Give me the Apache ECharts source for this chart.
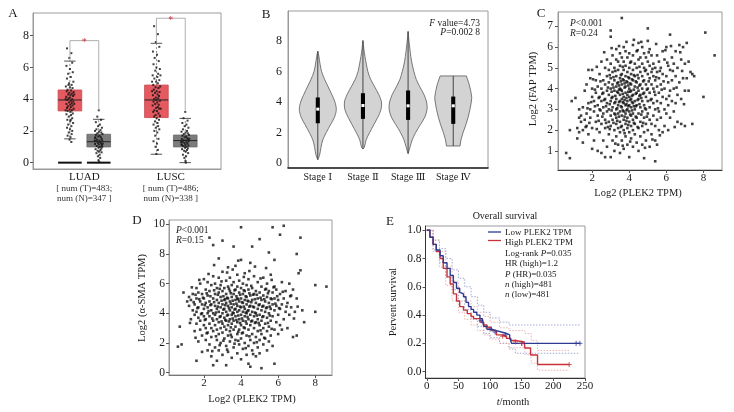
<!DOCTYPE html>
<html><head><meta charset="utf-8">
<script src="https://cdn.jsdelivr.net/npm/echarts@6/dist/echarts.min.js"></script>
<style>html,body{margin:0;padding:0;background:#fff}#c{width:734px;height:412px}</style>
</head><body><div id="c"></div>
<script>
const SERIF = '"Liberation Serif","DejaVu Serif",serif';

// ---------- Panel A ----------
const aPos = [1, 2, 4, 5];                 // LUAD-T, LUAD-N, LUSC-T, LUSC-N
const aTumor = [1, 0, 1, 0];
const aCategories = ['LUAD', 'LUSC'];
const aCatPos = [1.5, 4.5];
const aNumT = ['483', '486'];
const aNumN = ['347', '338'];
const aTicksY = [0, 2, 4, 6, 8];
// [lowWhisker, q1, median, q3, highWhisker]
const aBoxStats = [[1.5, 3.26, 3.95, 4.58, 6.4], [0, 0.99, 1.32, 1.79, 2.73], [0.53, 2.84, 3.95, 4.89, 7.52], [0, 0.99, 1.39, 1.74, 2.79]];
const aZeroBars = [1, 2];
// [x1, x2, yTop, yLeftEnd, yRightEnd]
const aBrackets = [[1, 2, 7.69, 6.4, 3.3], [4, 5, 9.1, 7.52, 3.3]];
const aJitterLUADT = [[-0.1,7.2],[0.05,6.9],[-0.02,6.6],[0.08,6.3],[-0.12,6.1],[0.0,5.9],[0.1,5.7],[-0.06,5.6],[0.03,5.4],[-0.1,5.3],[0.12,5.1],[-0.03,5.0],[0.06,4.9],[-0.14,4.8],[0.0,4.75],[0.09,4.7],[-0.08,4.6],[0.04,4.55],[-0.11,4.5],[0.13,4.45],[-0.02,4.4],[0.07,4.35],[-0.06,4.3],[0.02,4.25],[0.11,4.2],[-0.13,4.15],[0.0,4.1],[-0.05,4.05],[0.08,4.0],[-0.09,3.95],[0.04,3.9],[0.12,3.85],[-0.03,3.8],[0.06,3.75],[-0.12,3.7],[0.01,3.65],[0.09,3.6],[-0.07,3.55],[0.03,3.5],[-0.1,3.45],[0.13,3.4],[-0.01,3.35],[0.07,3.3],[-0.08,3.25],[0.02,3.2],[0.1,3.1],[-0.12,3.05],[0.04,3.0],[-0.04,2.9],[0.08,2.8],[-0.09,2.7],[0.01,2.6],[0.11,2.5],[-0.06,2.4],[0.05,2.3],[-0.1,2.2],[0.0,2.1],[0.08,2.0],[-0.04,1.9],[0.06,1.8],[-0.08,1.7],[0.02,1.6],[-0.01,1.45],[0.05,1.3],[-0.15,4.0],[0.15,3.7],[-0.15,3.3],[0.15,4.3],[-0.05,4.9],[0.03,2.7]];
const aJitterLUADN = [[0.0,3.3],[-0.05,2.9],[0.08,2.7],[-0.1,2.55],[0.04,2.4],[-0.02,2.3],[0.11,2.2],[-0.08,2.1],[0.06,2.05],[-0.13,2.0],[0.01,1.95],[0.09,1.9],[-0.05,1.85],[0.13,1.8],[-0.1,1.75],[0.03,1.7],[-0.02,1.65],[0.07,1.6],[-0.12,1.55],[0.1,1.5],[-0.06,1.45],[0.02,1.4],[0.12,1.38],[-0.09,1.35],[0.05,1.3],[-0.03,1.25],[0.08,1.2],[-0.13,1.18],[0.0,1.15],[0.11,1.1],[-0.07,1.05],[0.04,1.0],[-0.01,0.95],[0.09,0.9],[-0.11,0.85],[0.06,0.8],[-0.04,0.75],[0.02,0.7],[0.1,0.65],[-0.08,0.6],[0.03,0.5],[-0.03,0.4],[0.05,0.3],[-0.01,0.15],[0.02,0.05],[-0.14,1.4],[0.14,1.2],[-0.12,1.6],[0.12,1.0]];
const aJitterLUSCT = [[-0.08,8.6],[0.05,8.1],[-0.02,7.6],[0.1,7.3],[-0.12,7.0],[0.02,6.8],[-0.06,6.6],[0.08,6.4],[-0.1,6.2],[0.0,6.0],[0.12,5.9],[-0.04,5.8],[0.06,5.6],[-0.13,5.5],[0.03,5.4],[-0.07,5.3],[0.1,5.2],[-0.01,5.1],[0.05,5.0],[-0.11,4.9],[0.13,4.8],[-0.03,4.75],[0.07,4.7],[-0.09,4.6],[0.01,4.5],[0.11,4.45],[-0.05,4.4],[0.04,4.3],[-0.12,4.25],[0.09,4.2],[-0.02,4.1],[0.06,4.05],[-0.08,4.0],[0.0,3.95],[0.12,3.9],[-0.1,3.85],[0.03,3.8],[-0.04,3.7],[0.08,3.65],[-0.13,3.6],[0.05,3.5],[-0.01,3.45],[0.1,3.4],[-0.07,3.3],[0.02,3.25],[-0.11,3.2],[0.07,3.1],[-0.03,3.0],[0.12,2.95],[-0.08,2.9],[0.01,2.8],[0.09,2.7],[-0.05,2.6],[0.04,2.5],[-0.1,2.4],[0.06,2.3],[-0.02,2.2],[0.1,2.1],[-0.07,2.0],[0.03,1.9],[-0.04,1.7],[0.07,1.5],[-0.1,1.35],[0.02,1.2],[-0.03,1.0],[0.05,0.8],[0.0,0.55],[-0.15,4.5],[0.15,3.4],[-0.15,5.1],[0.14,5.5]];
const aJitterLUSCN = [[0.0,3.2],[-0.06,2.8],[0.08,2.65],[-0.1,2.5],[0.04,2.4],[-0.02,2.3],[0.11,2.2],[-0.08,2.1],[0.06,2.0],[-0.13,1.95],[0.01,1.9],[0.09,1.85],[-0.05,1.8],[0.13,1.75],[-0.1,1.7],[0.03,1.65],[-0.02,1.6],[0.07,1.55],[-0.12,1.5],[0.1,1.45],[-0.06,1.42],[0.02,1.4],[0.12,1.36],[-0.09,1.32],[0.05,1.28],[-0.03,1.24],[0.08,1.2],[-0.13,1.16],[0.0,1.12],[0.11,1.08],[-0.07,1.04],[0.04,1.0],[-0.01,0.95],[0.09,0.9],[-0.11,0.85],[0.06,0.8],[-0.04,0.75],[0.02,0.7],[0.1,0.6],[-0.08,0.5],[0.03,0.4],[-0.03,0.3],[0.01,0.1],[0.02,0.0],[-0.14,1.3],[0.14,1.5],[-0.12,1.1]];
const aJitter = [aJitterLUADT, aJitterLUADN, aJitterLUSCT, aJitterLUSCN];

// ---------- Panel B ----------
const bStages = ['Stage Ⅰ', 'Stage Ⅱ', 'Stage Ⅲ', 'Stage Ⅳ'];
const bPos = [1, 2, 3, 4];
const bTicksY = [0, 2, 4, 6, 8];
const bProfileY = [
  [0.2,0.5,1,1.5,2,2.5,3,3.5,4,4.5,5,5.5,6,6.5,7,7.35],
  [0.9,1,1.5,2,2.5,3,3.5,4,4.5,5,5.5,6,6.5,7,7.5,8.05],
  [0.6,1,1.5,2,2.5,3,3.5,4,4.5,5,5.5,6,6.5,7,7.5,8,8.65],
  [1.1,1.1,1.5,2,2.5,3,3.5,4,4.3,4.7,5.2,5.72,5.72]
];
const bProfileW = [
  [0,0.04,0.07,0.11,0.19,0.28,0.37,0.41,0.38,0.31,0.23,0.15,0.085,0.05,0.025,0],
  [0,0.03,0.07,0.15,0.24,0.33,0.40,0.41,0.35,0.26,0.17,0.11,0.075,0.045,0.02,0],
  [0,0.04,0.09,0.17,0.27,0.37,0.42,0.41,0.35,0.26,0.18,0.13,0.09,0.06,0.04,0.02,0],
  [0,0.15,0.17,0.22,0.28,0.33,0.37,0.40,0.41,0.39,0.35,0.29,0]
];
// [min, q1, median, q3, max]
const bBoxStats = [[0.2,2.6,3.53,4.3,7.35],[0.9,2.89,3.77,4.58,8.05],[0.6,2.82,3.75,4.76,8.65],[1.1,2.56,3.75,4.36,5.72]];

// ---------- Panel C ----------
const cTicksX = [2, 4, 6, 8];
const cTicksY = [1, 2, 3, 4, 5, 6, 7];
const cPoints = [[0.6,0.9],[0.8,0.65],[0.8,2.0],[0.9,3.4],[1.1,3.55],[1.2,1.6],[1.2,2.1],[1.3,1.9],[1.3,2.6],[1.3,3.0],[1.4,2.4],[1.4,2.7],[1.5,1.4],[1.5,2.0],[1.5,3.1],[1.6,2.5],[1.6,3.9],[1.7,2.8],[1.7,2.2],[1.7,4.2],[1.8,1.8],[1.8,3.3],[1.8,4.9],[1.9,2.6],[1.9,3.0],[1.9,4.5],[2.0,1.1],[2.0,2.1],[2.0,3.6],[2.0,4.0],[2.0,4.9],[2.1,2.9],[2.1,3.4],[2.1,1.5],[2.2,2.4],[2.2,3.8],[2.2,4.4],[2.3,1.0],[2.3,2.7],[2.3,3.2],[2.3,4.1],[2.4,1.9],[2.4,3.0],[2.4,3.6],[2.4,4.7],[2.5,0.9],[2.5,2.3],[2.5,3.4],[2.5,4.0],[2.5,5.3],[2.6,1.5],[2.6,2.8],[2.6,3.1],[2.6,3.8],[2.6,4.4],[2.7,0.7],[2.7,2.1],[2.7,2.5],[2.7,3.5],[2.7,4.2],[2.7,5.0],[2.8,1.2],[2.8,2.9],[2.8,3.3],[2.8,3.9],[2.8,4.6],[2.8,5.4],[2.9,1.8],[2.9,2.4],[2.9,3.0],[2.9,3.7],[2.9,4.3],[2.9,4.9],[3.0,0.7],[3.0,6.8],[3.0,6.5],[3.0,2.2],[3.0,2.7],[3.0,3.4],[3.0,4.0],[3.0,4.5],[3.0,5.2],[3.1,1.5],[3.1,2.5],[3.1,3.1],[3.1,3.6],[3.1,4.2],[3.1,4.8],[3.1,5.6],[3.2,1.0],[3.2,2.0],[3.2,2.8],[3.2,3.3],[3.2,3.9],[3.2,4.4],[3.2,5.0],[3.3,1.7],[3.3,2.3],[3.3,2.6],[3.3,3.0],[3.3,3.5],[3.3,4.1],[3.3,4.6],[3.3,5.4],[3.3,5.9],[3.4,1.3],[3.4,2.1],[3.4,2.8],[3.4,3.2],[3.4,3.8],[3.4,4.3],[3.4,4.9],[3.4,5.3],[3.5,0.9],[3.5,1.9],[3.5,2.4],[3.5,2.9],[3.5,3.4],[3.5,3.7],[3.5,4.0],[3.5,4.5],[3.5,5.1],[3.5,5.7],[3.6,7.4],[3.6,1.5],[3.6,2.2],[3.6,2.7],[3.6,3.1],[3.6,3.5],[3.6,3.9],[3.6,4.2],[3.6,4.7],[3.6,5.5],[3.7,1.1],[3.7,2.0],[3.7,2.5],[3.7,2.9],[3.7,3.3],[3.7,3.6],[3.7,4.4],[3.7,4.9],[3.7,5.3],[3.7,6.0],[3.8,1.7],[3.8,2.3],[3.8,2.8],[3.8,3.2],[3.8,3.8],[3.8,4.1],[3.8,4.6],[3.8,5.1],[3.8,5.8],[3.9,1.3],[3.9,2.1],[3.9,2.6],[3.9,3.0],[3.9,3.4],[3.9,3.7],[3.9,4.3],[3.9,4.8],[3.9,5.5],[4.0,0.7],[4.0,1.9],[4.0,2.4],[4.0,2.9],[4.0,3.2],[4.0,3.6],[4.0,4.0],[4.0,4.5],[4.0,5.0],[4.0,5.7],[4.1,1.6],[4.1,2.2],[4.1,2.7],[4.1,3.1],[4.1,3.5],[4.1,3.9],[4.1,4.2],[4.1,4.7],[4.1,5.3],[4.2,1.2],[4.2,2.0],[4.2,2.5],[4.2,2.8],[4.2,3.3],[4.2,3.7],[4.2,4.4],[4.2,4.9],[4.2,5.6],[4.2,6.1],[4.3,1.8],[4.3,2.3],[4.3,3.0],[4.3,3.4],[4.3,4.1],[4.3,4.6],[4.3,5.2],[4.4,1.4],[4.4,2.6],[4.4,3.2],[4.4,3.8],[4.4,4.3],[4.4,5.0],[4.4,5.8],[4.5,1.0],[4.5,2.1],[4.5,2.8],[4.5,3.5],[4.5,3.9],[4.5,4.5],[4.5,5.4],[4.5,6.2],[4.6,1.7],[4.6,2.4],[4.6,3.1],[4.6,3.7],[4.6,4.2],[4.6,4.8],[4.6,5.5],[4.7,1.3],[4.7,2.2],[4.7,2.9],[4.7,3.4],[4.7,4.0],[4.7,4.6],[4.7,5.2],[4.7,6.0],[4.8,0.65],[4.8,1.9],[4.8,2.6],[4.8,3.2],[4.8,3.8],[4.8,4.4],[4.8,5.0],[4.8,5.7],[4.9,1.5],[4.9,2.3],[4.9,3.0],[4.9,3.6],[4.9,4.2],[4.9,4.9],[4.9,5.5],[5.0,6.9],[5.0,6.3],[5.0,2.0],[5.0,2.8],[5.0,3.4],[5.0,4.0],[5.0,4.7],[5.0,5.3],[5.1,1.2],[5.1,2.5],[5.1,3.1],[5.1,3.8],[5.1,4.5],[5.1,5.1],[5.1,5.9],[5.2,1.8],[5.2,2.3],[5.2,3.5],[5.2,4.2],[5.2,4.8],[5.2,5.6],[5.3,2.7],[5.3,3.3],[5.3,4.0],[5.3,4.6],[5.3,5.2],[5.4,0.5],[5.4,1.5],[5.4,2.2],[5.4,3.0],[5.4,3.7],[5.4,4.4],[5.4,5.0],[5.5,1.3],[5.5,2.5],[5.5,3.4],[5.5,4.1],[5.5,4.8],[5.5,5.6],[5.6,2.0],[5.6,2.9],[5.6,3.8],[5.6,4.5],[5.6,5.3],[5.7,2.6],[5.7,3.3],[5.7,4.2],[5.7,5.0],[5.8,1.9],[5.8,3.6],[5.8,4.7],[5.8,5.8],[5.9,2.2],[5.9,3.0],[5.9,4.0],[5.9,5.4],[6.0,2.8],[6.0,3.5],[6.0,4.6],[6.0,6.0],[6.1,2.0],[6.1,3.2],[6.1,4.3],[6.1,5.1],[6.2,6.6],[6.2,2.6],[6.2,3.9],[6.2,4.9],[6.3,3.4],[6.3,4.4],[6.3,5.5],[6.4,2.9],[6.4,4.0],[6.4,5.2],[6.5,3.3],[6.5,4.6],[6.5,5.8],[6.6,2.4],[6.6,3.7],[6.6,5.0],[6.7,6.1],[6.7,4.3],[6.8,2.3],[6.8,3.5],[6.8,5.4],[6.9,4.5],[6.9,6.0],[7.0,2.2],[7.0,3.9],[7.0,5.2],[7.1,4.5],[7.1,6.2],[7.2,3.9],[7.2,5.3],[7.3,4.8],[7.4,2.3],[7.4,4.7],[7.5,4.6],[8.0,3.6],[8.1,6.7],[8.6,5.6],
[2.15,3.15],[2.25,2.05],[2.35,3.55],[2.45,4.35],[2.55,2.65],[2.65,3.45],[2.75,2.35],[2.85,4.05],[2.95,3.25],[2.95,2.05],[3.05,3.85],[3.05,2.95],[3.15,4.55],[3.15,2.35],[3.25,3.65],[3.25,2.75],[3.25,4.85],[3.35,3.05],[3.35,3.85],[3.35,2.45],[3.45,4.15],[3.45,3.35],[3.45,2.65],[3.55,3.95],[3.55,3.15],[3.55,4.65],[3.55,2.15],[3.65,3.75],[3.65,2.95],[3.65,4.45],[3.65,5.05],[3.75,3.45],[3.75,2.65],[3.75,4.05],[3.75,1.85],[3.85,3.55],[3.85,4.35],[3.85,2.95],[3.85,2.45],[3.95,3.85],[3.95,3.15],[3.95,4.55],[3.95,2.25],[4.05,3.45],[4.05,4.25],[4.05,2.75],[4.05,5.25],[4.15,3.65],[4.15,2.95],[4.15,4.45],[4.25,3.15],[4.25,3.95],[4.25,2.35],[4.35,3.75],[4.35,4.35],[4.35,2.65],[4.45,3.45],[4.45,4.65],[4.45,2.15],[4.55,3.25],[4.55,4.15],[4.55,5.05],[4.65,3.55],[4.65,2.75],[4.75,4.35],[4.75,3.75],[4.85,3.05],[4.85,4.85],[4.95,3.95],[4.95,2.65],[5.05,4.35],[5.15,3.45],[5.25,4.95],[5.35,3.85],[5.45,4.55],[5.55,3.05],[5.65,4.85],[5.75,3.95],[5.85,4.35],[6.05,5.25],[6.15,3.65],[6.35,4.85],[6.55,4.05],[6.75,5.75],[6.95,3.25],[1.95,3.35],[1.85,2.35],[1.75,3.05],[1.65,2.15],[2.05,4.45],[2.25,5.05],[2.45,2.95],[2.65,5.75],[2.85,2.15],[3.05,5.95],[3.25,1.35],[3.45,6.05],[3.65,1.25],[3.85,6.25],[4.05,1.45],[4.25,6.35],[4.45,5.85],[4.65,6.25],[4.85,1.15],[5.05,5.75],[5.25,1.55],[5.45,6.15],[5.65,1.75],[5.95,5.85],[6.25,6.05],[6.45,2.15],[6.85,4.85],[3.15,4.05],[3.35,4.25],[3.55,4.35],[3.75,4.25],[3.95,4.15],[4.15,3.35],[4.35,3.15],[4.55,3.65],[4.75,2.35],[3.05,3.55],[3.25,3.35],[3.45,3.95],[3.65,3.35],[3.85,3.25],[4.05,3.85],[4.25,4.65],[4.45,4.05],[2.55,3.75],[2.75,3.15],[2.95,4.65],[2.35,2.45],[2.15,3.95]];

// ---------- Panel D ----------
const dTicksX = [2, 4, 6, 8];
const dTicksY = [0, 2, 4, 6, 8, 10];
const dPoints = [[0.6,1.75],[0.8,1.9],[0.7,3.1],[0.9,5.4],[1.1,4.8],[1.2,4.5],[1.2,5.1],[1.3,3.6],[1.3,4.9],[1.4,4.2],[1.4,5.3],[1.5,2.8],[1.5,3.9],[1.5,4.6],[1.6,0.8],[1.6,3.3],[1.6,4.1],[1.6,5.0],[1.6,5.7],[1.7,2.1],[1.7,3.7],[1.7,4.4],[1.7,5.4],[1.8,2.9],[1.8,3.5],[1.8,4.8],[1.8,6.0],[1.9,1.4],[1.9,2.5],[1.9,4.0],[1.9,4.6],[1.9,5.3],[2.0,3.2],[2.0,3.8],[2.0,4.3],[2.0,5.0],[2.0,6.3],[2.1,2.2],[2.1,3.0],[2.1,3.6],[2.1,4.7],[2.1,5.6],[2.2,1.5],[2.2,2.7],[2.2,4.0],[2.2,4.4],[2.2,5.2],[2.2,6.1],[2.3,9.1],[2.3,1.9],[2.3,3.3],[2.3,3.8],[2.3,4.8],[2.3,5.5],[2.4,1.1],[2.4,2.4],[2.4,3.0],[2.4,4.2],[2.4,4.6],[2.4,5.9],[2.5,8.6],[2.5,0.5],[2.5,2.8],[2.5,3.5],[2.5,4.0],[2.5,5.0],[2.5,6.5],[2.6,1.7],[2.6,3.2],[2.6,3.9],[2.6,4.5],[2.6,5.3],[2.6,6.0],[2.7,0.8],[2.7,2.2],[2.7,2.9],[2.7,3.6],[2.7,4.3],[2.7,4.9],[2.7,5.7],[2.8,7.7],[2.8,1.5],[2.8,2.6],[2.8,3.4],[2.8,4.1],[2.8,4.7],[2.8,5.4],[2.8,6.4],[2.9,2.0],[2.9,3.0],[2.9,3.8],[2.9,4.4],[2.9,5.1],[2.9,5.9],[3.0,8.9],[3.0,1.2],[3.0,2.7],[3.0,3.3],[3.0,4.0],[3.0,4.6],[3.0,5.5],[3.0,6.8],[3.1,2.3],[3.1,3.1],[3.1,3.7],[3.1,4.3],[3.1,4.9],[3.1,5.7],[3.2,0.5],[3.2,1.8],[3.2,2.9],[3.2,3.5],[3.2,4.1],[3.2,4.7],[3.2,5.3],[3.2,6.2],[3.3,1.4],[3.3,2.5],[3.3,3.2],[3.3,3.9],[3.3,4.5],[3.3,5.0],[3.3,5.8],[3.3,7.1],[3.4,2.1],[3.4,2.8],[3.4,3.6],[3.4,4.2],[3.4,4.8],[3.4,5.5],[3.4,6.4],[3.5,1.0],[3.5,2.4],[3.5,3.3],[3.5,3.9],[3.5,4.4],[3.5,5.1],[3.5,5.9],[3.6,8.5],[3.6,1.7],[3.6,2.9],[3.6,3.5],[3.6,4.0],[3.6,4.6],[3.6,5.3],[3.6,6.1],[3.7,2.2],[3.7,3.1],[3.7,3.8],[3.7,4.3],[3.7,4.9],[3.7,5.6],[3.7,7.2],[3.8,1.3],[3.8,2.6],[3.8,3.4],[3.8,4.1],[3.8,4.5],[3.8,5.0],[3.8,5.8],[3.8,6.6],[3.9,1.9],[3.9,2.9],[3.9,3.6],[3.9,4.2],[3.9,4.8],[3.9,5.4],[3.9,6.2],[4.0,9.8],[4.0,0.9],[4.0,2.3],[4.0,3.2],[4.0,3.9],[4.0,4.4],[4.0,5.0],[4.0,5.7],[4.0,7.6],[4.1,1.6],[4.1,2.7],[4.1,3.5],[4.1,4.1],[4.1,4.7],[4.1,5.3],[4.1,6.0],[4.2,2.0],[4.2,3.0],[4.2,3.8],[4.2,4.3],[4.2,4.9],[4.2,5.5],[4.2,6.7],[4.3,1.2],[4.3,2.5],[4.3,3.3],[4.3,4.0],[4.3,4.6],[4.3,5.1],[4.3,5.9],[4.4,0.6],[4.4,1.8],[4.4,2.9],[4.4,3.6],[4.4,4.2],[4.4,4.8],[4.4,5.6],[4.4,6.3],[4.5,0.4],[4.5,2.2],[4.5,3.2],[4.5,3.9],[4.5,4.5],[4.5,5.2],[4.5,7.4],[4.6,8.5],[4.6,1.5],[4.6,2.6],[4.6,3.5],[4.6,4.1],[4.6,4.9],[4.6,5.7],[4.7,2.0],[4.7,3.0],[4.7,3.8],[4.7,4.4],[4.7,5.3],[4.7,6.5],[4.8,1.1],[4.8,2.4],[4.8,3.4],[4.8,4.0],[4.8,4.7],[4.8,5.5],[4.9,1.7],[4.9,2.8],[4.9,3.6],[4.9,4.3],[4.9,5.0],[4.9,6.1],[5.0,9.0],[5.0,1.3],[5.0,2.2],[5.0,3.2],[5.0,3.9],[5.0,4.6],[5.0,5.4],[5.1,0.3],[5.1,2.6],[5.1,3.5],[5.1,4.2],[5.1,4.9],[5.1,5.8],[5.2,1.9],[5.2,3.0],[5.2,3.8],[5.2,4.5],[5.2,5.2],[5.2,6.4],[5.3,2.3],[5.3,3.3],[5.3,4.1],[5.3,4.8],[5.3,5.6],[5.4,1.5],[5.4,2.8],[5.4,3.7],[5.4,4.4],[5.4,5.1],[5.4,6.0],[5.5,2.1],[5.5,3.1],[5.5,4.0],[5.5,4.7],[5.5,5.5],[5.5,8.1],[5.6,2.5],[5.6,3.5],[5.6,4.3],[5.6,5.0],[5.6,6.6],[5.7,9.8],[5.7,1.8],[5.7,3.8],[5.7,4.6],[5.7,5.4],[5.8,0.6],[5.8,2.9],[5.8,4.2],[5.8,5.0],[5.8,5.8],[5.8,7.6],[5.9,3.4],[5.9,4.5],[5.9,5.6],[6.0,2.6],[6.0,3.9],[6.0,4.9],[6.1,9.3],[6.1,3.2],[6.1,4.3],[6.1,5.3],[6.2,2.9],[6.2,4.6],[6.2,6.1],[6.3,9.9],[6.3,3.6],[6.3,5.0],[6.4,4.1],[6.4,5.5],[6.5,3.0],[6.5,4.7],[6.6,6.0],[6.6,3.9],[6.7,4.4],[6.7,5.2],[6.8,2.4],[6.8,5.6],[6.9,4.1],[7.0,2.5],[7.0,8.0],[7.0,5.0],[7.1,6.7],[7.2,9.1],[7.2,6.9],[7.3,4.2],[7.4,3.4],[8.0,5.9],[8.0,4.1],[8.6,5.8],
[1.45,4.75],[1.55,5.25],[1.65,4.35],[1.75,4.95],[1.85,3.95],[1.95,5.05],[2.05,4.55],[2.15,5.35],[2.25,4.15],[2.35,5.15],[2.45,3.65],[2.55,4.75],[2.65,4.05],[2.75,5.25],[2.85,3.75],[2.95,4.85],[3.05,4.25],[3.05,5.15],[3.15,3.55],[3.15,4.55],[3.25,3.85],[3.25,5.05],[3.35,4.35],[3.35,3.45],[3.45,4.65],[3.45,5.35],[3.55,3.65],[3.55,4.85],[3.65,4.25],[3.65,5.55],[3.75,3.55],[3.75,4.65],[3.85,4.95],[3.85,3.85],[3.95,4.45],[3.95,5.25],[4.05,4.75],[4.05,3.65],[4.15,4.45],[4.15,5.55],[4.25,4.05],[4.25,5.15],[4.35,4.85],[4.35,3.75],[4.45,4.45],[4.45,5.35],[4.55,4.75],[4.55,3.45],[4.65,4.45],[4.65,5.25],[4.75,4.05],[4.75,4.95],[4.85,5.25],[4.85,3.85],[4.95,4.55],[5.05,5.05],[5.15,4.45],[5.25,4.95],[5.35,4.35],[5.45,5.35],[5.55,4.45],[5.65,4.95],[5.75,5.75],[5.85,4.65],[5.95,5.15],[6.05,4.35],[6.25,5.45],[6.45,4.45],[6.65,5.15],[2.15,2.65],[2.45,1.45],[2.65,2.45],[2.85,1.85],[3.05,2.15],[3.25,1.55],[3.45,2.55],[3.65,1.95],[3.85,2.15],[4.05,2.65],[4.25,1.65],[4.45,2.45],[4.65,1.25],[4.85,2.05],[5.05,2.85],[5.25,2.35],[5.45,3.35],[5.65,2.95],[2.25,6.65],[2.55,7.25],[2.95,6.15],[3.25,6.75],[3.55,6.95],[3.85,7.55],[4.15,6.45],[4.45,6.85],[4.75,7.15],[5.05,6.35],[5.35,7.05],[5.65,6.25],[1.25,3.35],[1.35,5.75],[1.55,2.35],[1.75,6.25],[6.85,3.65],[7.05,4.45],[2.35,4.55],[2.75,4.45],[3.15,4.95],[3.55,4.05],[3.95,3.35],[4.35,4.15],[4.75,3.35],[5.15,3.75],[5.55,3.85],[2.95,3.45],[3.35,5.65],[3.75,5.15],[4.15,3.05],[4.55,5.85],[4.95,3.35],[5.35,5.65],[2.05,3.55],[2.55,5.55],[2.85,5.65],[3.45,3.05],[3.85,2.75],[4.25,3.45]];

// ---------- Panel E ----------
const eTicksX = [0, 50, 100, 150, 200, 250];
const eTicksY = [0, 0.2, 0.4, 0.6, 0.8, 1.0];
const eLow = [[0,1.0],[5,0.95],[10,0.90],[15,0.86],[21,0.82],[26,0.77],[32,0.73],[37,0.68],[42,0.63],[47,0.59],[52,0.56],[55,0.55],[58,0.53],[62,0.49],[66,0.46],[70,0.44],[74,0.42],[79,0.40],[84,0.375],[88,0.36],[90,0.32],[95,0.30],[102,0.29],[110,0.28],[118,0.27],[126,0.26],[131,0.24],[134,0.20],[242,0.20]];
const eHigh = [[0,1.0],[5,0.95],[10,0.90],[15,0.85],[21,0.80],[26,0.73],[32,0.67],[37,0.62],[42,0.55],[47,0.50],[52,0.46],[58,0.435],[64,0.41],[70,0.39],[74,0.375],[84,0.35],[90,0.33],[95,0.315],[102,0.29],[110,0.26],[118,0.25],[126,0.235],[133,0.22],[140,0.21],[154,0.20],[155,0.167],[164,0.118],[175,0.05],[225,0.05]];
const eLowUpper = [[0,1],[10,0.93],[20,0.87],[30,0.80],[40,0.72],[50,0.66],[60,0.60],[70,0.53],[80,0.47],[90,0.42],[100,0.38],[115,0.35],[130,0.33],[242,0.33]];
const eLowLower = [[0,1],[10,0.86],[20,0.77],[30,0.67],[40,0.58],[50,0.50],[60,0.44],[70,0.37],[80,0.32],[90,0.27],[100,0.24],[115,0.20],[130,0.16],[140,0.13],[242,0.13]];
const eHighUpper = [[0,1],[10,0.93],[20,0.85],[30,0.74],[40,0.64],[50,0.56],[60,0.50],[70,0.46],[80,0.42],[90,0.39],[100,0.35],[115,0.31],[130,0.29],[155,0.27],[165,0.22],[175,0.15],[225,0.15]];
const eHighLower = [[0,1],[10,0.85],[20,0.74],[30,0.61],[40,0.50],[50,0.42],[60,0.37],[70,0.33],[80,0.29],[90,0.26],[100,0.23],[115,0.20],[130,0.17],[155,0.12],[165,0.06],[175,0.01],[225,0.01]];
const eLowCensor = [[86,0.36],[100,0.30],[108,0.28],[124,0.26],[150,0.20],[236,0.20],[242,0.20]];
const eHighCensor = [[96,0.31],[120,0.25],[140,0.21],[150,0.20],[225,0.05]];
const eLegend = ['Low PLEK2 TPM', 'High PLEK2 TPM'];

const BLUE = '#2d3a92', RED = '#c9323a';
const LBL = {fontFamily: SERIF, color: '#1a1a1a'};

function xAx(g, min, max, ticks, extra) {
  return Object.assign({
    gridIndex: g, type: 'value', min, max,
    splitLine: {show: false},
    axisLine: {show: true, lineStyle: {color: '#333', width: 1}},
    axisTick: {show: true, inside: false, length: 3, customValues: ticks, lineStyle: {color: '#555'}},
    axisLabel: Object.assign({customValues: ticks, fontSize: 11, margin: 3}, LBL)
  }, extra || {});
}
function yAx(g, min, max, ticks, extra) {
  return Object.assign({
    gridIndex: g, type: 'value', min, max,
    splitLine: {show: false},
    axisLine: {show: true, lineStyle: {color: '#999', width: 1}},
    axisTick: {show: true, inside: false, length: 3, customValues: ticks, lineStyle: {color: '#555'}},
    axisLabel: Object.assign({customValues: ticks, fontSize: 11, margin: 4}, LBL)
  }, extra || {});
}

const grid = [
  {left: 33, top: 13, width: 188, height: 156, show: true, borderColor: '#9a9a9a', borderWidth: 1},
  {left: 288, top: 11, width: 200, height: 157, show: true, borderColor: '#9a9a9a', borderWidth: 1},
  {left: 558, top: 12, width: 164, height: 158, show: true, borderColor: '#9a9a9a', borderWidth: 1},
  {left: 169, top: 220, width: 163, height: 155, show: true, borderColor: '#9a9a9a', borderWidth: 1},
  {left: 425.5, top: 226, width: 159.5, height: 152, show: true, borderColor: '#9a9a9a', borderWidth: 1}
];

const xAxis = [
  xAx(0, -0.28, 6.24, aCatPos, {
    axisLine: {show: true, lineStyle: {color: '#999'}},
    axisTick: {show: false},
    axisLabel: {customValues: aCatPos, margin: 2, fontFamily: SERIF, color: '#1a1a1a', lineHeight: 11,
      formatter: v => { const i = aCatPos.indexOf(v); return '{n|' + aCategories[i] + '}\n{s|[ num (T)=' + aNumT[i] + ';}\n{s|num (N)=' + aNumN[i] + ' ]}'; },
      rich: {n: {fontSize: 11, fontFamily: SERIF, lineHeight: 13, color: '#1a1a1a'}, s: {fontSize: 9, fontFamily: SERIF, lineHeight: 10, color: '#333'}}}
  }),
  xAx(1, 0.34, 4.77, bPos, {
    axisLine: {show: true, lineStyle: {color: '#222', width: 1.6}},
    axisTick: {show: false},
    axisLabel: Object.assign({customValues: bPos, fontSize: 10, margin: 4, formatter: v => bStages[Math.round(v) - 1]}, LBL)
  }),
  xAx(2, 0.16, 9.0, cTicksX),
  xAx(3, 0.12, 8.9, dTicksX, {axisLine: {show: true, lineStyle: {color: '#777'}}}),
  xAx(4, -2, 250, eTicksX)
];
const yAxis = [
  yAx(0, -0.4, 9.43, aTicksY, {axisLabel: Object.assign({customValues: aTicksY, fontSize: 12, margin: 4}, LBL)}),
  yAx(1, -0.35, 10.0, bTicksY, {axisTick: {show: false}, axisLabel: Object.assign({customValues: bTicksY, fontSize: 12, margin: 6}, LBL)}),
  yAx(2, 0.08, 7.69, cTicksY, {axisLabel: Object.assign({customValues: cTicksY, fontSize: 11.5, margin: 5}, LBL)}),
  yAx(3, -0.16, 10.29, dTicksY, {axisLabel: Object.assign({customValues: dTicksY, fontSize: 11.5, margin: 4}, LBL)}),
  yAx(4, -0.045, 1.03, eTicksY, {axisLine: {show: true, lineStyle: {color: '#333'}},
    axisLabel: Object.assign({customValues: eTicksY, fontSize: 11.5, margin: 4, formatter: v => v.toFixed(1)}, LBL)})
];
xAxis.concat(yAxis).forEach(a => { a.axisLine.onZero = false; });

const series = [];
// A: boxes + whiskers
series.push({
  type: 'custom', xAxisIndex: 0, yAxisIndex: 0, z: 2,
  data: aPos.map((p, i) => [p].concat(aBoxStats[i], [aTumor[i]])),
  encode: {x: 0, y: 3},
  renderItem: (params, api) => {
    const x = api.value(0), lo = api.value(1), q1 = api.value(2), q3 = api.value(4), hi = api.value(5), t = api.value(6);
    const hw = 0.41, cw = 0.2;
    const tl = api.coord([x - hw, q3]), br = api.coord([x + hw, q1]);
    const wl = api.coord([x, lo]), wq1 = api.coord([x, q1]), wq3 = api.coord([x, q3]), wh = api.coord([x, hi]);
    const cl1 = api.coord([x - cw, lo]), cl2 = api.coord([x + cw, lo]);
    const ch1 = api.coord([x - cw, hi]), ch2 = api.coord([x + cw, hi]);
    const ws = {stroke: '#777', lineWidth: 0.8, lineDash: [2, 2]};
    return {type: 'group', children: [
      {type: 'line', shape: {x1: wq3[0], y1: wq3[1], x2: wh[0], y2: wh[1]}, style: ws},
      {type: 'line', shape: {x1: wq1[0], y1: wq1[1], x2: wl[0], y2: wl[1]}, style: ws},
      {type: 'line', shape: {x1: ch1[0], y1: ch1[1], x2: ch2[0], y2: ch2[1]}, style: {stroke: '#555', lineWidth: 1}},
      {type: 'line', shape: {x1: cl1[0], y1: cl1[1], x2: cl2[0], y2: cl2[1]}, style: {stroke: '#555', lineWidth: 1}},
      {type: 'rect', shape: {x: tl[0], y: tl[1], width: br[0] - tl[0], height: br[1] - tl[1]},
        style: {fill: t ? '#e55a60' : '#7c7c7c', stroke: t ? '#c64a50' : '#666', lineWidth: 0.8}}
    ]};
  }
});
// A: zero bars
series.push({
  type: 'custom', xAxisIndex: 0, yAxisIndex: 0, z: 3,
  data: aZeroBars.map(p => [p, 0]),
  renderItem: (params, api) => {
    const a = api.coord([api.value(0) - 0.41, 0]), b = api.coord([api.value(0) + 0.41, 0]);
    return {type: 'line', shape: {x1: a[0], y1: a[1], x2: b[0], y2: b[1]}, style: {stroke: '#111', lineWidth: 2}};
  }
});
// A: jitter points
aJitter.forEach((pts, g) => {
  series.push({
    type: 'scatter', xAxisIndex: 0, yAxisIndex: 0, z: 4, symbol: 'rect', symbolSize: 2,
    itemStyle: {color: '#111'}, silent: true,
    data: pts.map(d => [aPos[g] + d[0], d[1]])
  });
});
// A: medians
series.push({
  type: 'custom', xAxisIndex: 0, yAxisIndex: 0, z: 5,
  data: aPos.map((p, i) => [p, aBoxStats[i][2]]),
  renderItem: (params, api) => {
    const a = api.coord([api.value(0) - 0.41, api.value(1)]), b = api.coord([api.value(0) + 0.41, api.value(1)]);
    return {type: 'line', shape: {x1: a[0], y1: a[1], x2: b[0], y2: b[1]}, style: {stroke: '#222', lineWidth: 1}};
  }
});
// A: brackets
series.push({
  type: 'custom', xAxisIndex: 0, yAxisIndex: 0, z: 5,
  data: aBrackets,
  encode: {x: 0, y: 2},
  renderItem: (params, api) => {
    const x1 = api.value(0), x2 = api.value(1), yt = api.value(2), yl = api.value(3), yr = api.value(4);
    const a = api.coord([x1, yl]), b = api.coord([x1, yt]), c = api.coord([x2, yt]), d = api.coord([x2, yr]);
    const m = api.coord([(x1 + x2) / 2, yt]);
    return {type: 'group', children: [
      {type: 'polyline', shape: {points: [a, b, c, d]}, style: {stroke: '#9a9a9a', lineWidth: 0.8, fill: null}},
      {type: 'text', x: m[0], y: m[1] + 2, style: {text: '*', fill: '#d0303a', fontSize: 10, fontFamily: SERIF, align: 'center', verticalAlign: 'middle'}}
    ]};
  }
});
// B: violins
series.push({
  type: 'custom', xAxisIndex: 1, yAxisIndex: 1, z: 2,
  data: bPos.map((p, i) => [p, bBoxStats[i][2]]),
  renderItem: (params, api) => {
    const i = params.dataIndex, cx = api.value(0);
    const ys = bProfileY[i], ws = bProfileW[i];
    const right = ys.map((y, k) => api.coord([cx + ws[k], y]));
    const left = ys.map((y, k) => api.coord([cx - ws[k], y])).reverse();
    return {type: 'polygon', shape: {points: right.concat(left), smooth: i === 3 ? 0 : 0.3},
      style: {fill: '#d3d3d3', stroke: '#5a5a5a', lineWidth: 0.8}};
  }
});
// B: inner boxes
series.push({
  type: 'custom', xAxisIndex: 1, yAxisIndex: 1, z: 3,
  data: bPos.map((p, i) => [p].concat(bBoxStats[i])),
  encode: {x: 0, y: 3},
  renderItem: (params, api) => {
    const x = api.value(0), mn = api.value(1), q1 = api.value(2), md = api.value(3), q3 = api.value(4), mx = api.value(5);
    const a = api.coord([x, mn]), b = api.coord([x, mx]);
    const tl = api.coord([x - 0.045, q3]), br = api.coord([x + 0.045, q1]);
    const m = api.coord([x, md]);
    return {type: 'group', children: [
      {type: 'line', shape: {x1: a[0], y1: a[1], x2: b[0], y2: b[1]}, style: {stroke: '#444', lineWidth: 1}},
      {type: 'rect', shape: {x: tl[0], y: tl[1], width: br[0] - tl[0], height: br[1] - tl[1]}, style: {fill: '#000'}},
      {type: 'rect', shape: {x: tl[0] + 0.5, y: m[1] - 1.5, width: br[0] - tl[0] - 1, height: 3}, style: {fill: '#fff'}}
    ]};
  }
});
// C, D scatter
series.push({type: 'scatter', xAxisIndex: 2, yAxisIndex: 2, symbol: 'rect', symbolSize: 2.6, itemStyle: {color: '#111'}, data: cPoints, silent: true});
series.push({type: 'scatter', xAxisIndex: 3, yAxisIndex: 3, symbol: 'rect', symbolSize: 2.6, itemStyle: {color: '#111'}, data: dPoints, silent: true});
// E: KM
const band = (data, color) => ({type: 'line', xAxisIndex: 4, yAxisIndex: 4, step: 'end', symbol: 'none', z: 2, silent: true,
  lineStyle: {color, width: 0.8, type: [1.5, 1.5]}, data});
series.push(band(eLowUpper, '#8a94cc'), band(eLowLower, '#8a94cc'), band(eHighUpper, '#e8a0a0'), band(eHighLower, '#e8a0a0'));
series.push({type: 'line', xAxisIndex: 4, yAxisIndex: 4, step: 'end', symbol: 'none', z: 3, lineStyle: {color: RED, width: 1.4}, data: eHigh});
series.push({type: 'line', xAxisIndex: 4, yAxisIndex: 4, step: 'end', symbol: 'none', z: 4, lineStyle: {color: BLUE, width: 1.4}, data: eLow});
const plus = 'path://M0 4H8M4 0V8';
series.push({type: 'scatter', xAxisIndex: 4, yAxisIndex: 4, z: 5, symbol: plus, symbolSize: 5, itemStyle: {color: 'none', borderColor: BLUE, borderWidth: 1}, data: eLowCensor});
series.push({type: 'scatter', xAxisIndex: 4, yAxisIndex: 4, z: 5, symbol: plus, symbolSize: 5, itemStyle: {color: 'none', borderColor: RED, borderWidth: 1}, data: eHighCensor});

function txt(x, y, text, o) {
  return {type: 'text', x, y, z: 100, style: Object.assign({text, fontFamily: SERIF, fontSize: 10, fill: '#1a1a1a', align: 'left', verticalAlign: 'middle'}, o || {})};
}
const it = (s) => ({fontStyle: 'italic', fontFamily: SERIF, fontSize: s, fill: '#1a1a1a'});
const rm = (s) => ({fontFamily: SERIF, fontSize: s, fill: '#1a1a1a'});

const graphic = [
  txt(13, 14, 'A', {fontSize: 13, align: 'center'}),
  txt(266, 15, 'B', {fontSize: 13, align: 'center'}),
  txt(541, 14, 'C', {fontSize: 13, align: 'center'}),
  txt(137, 221, 'D', {fontSize: 13, align: 'center'}),
  txt(390, 222, 'E', {fontSize: 13, align: 'center'}),
  txt(480, 23, '{i|F} {r|value=4.73}', {align: 'right', rich: {i: it(9.5), r: rm(9.5)}}),
  txt(480, 32, '{i|P}{r|=0.002 8}', {align: 'right', rich: {i: it(9.5), r: rm(9.5)}}),
  txt(570, 23, '{i|P}{r|<0.001}', {rich: {i: it(9.5), r: rm(9.5)}}),
  txt(570, 33, '{i|R}{r|=0.24}', {rich: {i: it(9.5), r: rm(9.5)}}),
  txt(176, 230, '{i|P}{r|<0.001}', {rich: {i: it(9.5), r: rm(9.5)}}),
  txt(176, 240.5, '{i|R}{r|=0.15}', {rich: {i: it(9.5), r: rm(9.5)}}),
  txt(533, 89, 'Log2 (FAP TPM)', {fontSize: 10.5, align: 'center'}),
  txt(638, 193, 'Log2 (PLEK2 TPM)', {fontSize: 10.5, align: 'center'}),
  txt(142, 298, 'Log2 (α-SMA TPM)', {fontSize: 10.5, align: 'center'}),
  txt(252, 399, 'Log2 (PLEK2 TPM)', {fontSize: 10.5, align: 'center'}),
  txt(393, 302, 'Pervent survival', {fontSize: 10.5, align: 'center'}),
  txt(513, 402, '{i|t}{r|/month}', {align: 'center', rich: {i: it(10.5), r: rm(10.5)}}),
  txt(505, 216.5, 'Overall survival', {fontSize: 10, align: 'center'}),
  {type: 'line', z: 100, shape: {x1: 488, y1: 232, x2: 501, y2: 232}, style: {stroke: BLUE, lineWidth: 1.3}},
  {type: 'line', z: 100, shape: {x1: 488, y1: 240.5, x2: 501, y2: 240.5}, style: {stroke: RED, lineWidth: 1.3}},
  txt(505, 232.5, eLegend[0], {fontSize: 9}),
  txt(505, 242.5, eLegend[1], {fontSize: 9}),
  txt(505, 253.5, '{r|Log-rank }{i|P}{r|=0.035}', {rich: {i: it(9), r: rm(9)}}),
  txt(505, 264, 'HR (high)=1.2', {fontSize: 9}),
  txt(505, 274.5, '{i|P}{r| (HR)=0.035}', {rich: {i: it(9), r: rm(9)}}),
  txt(505, 284.5, '{i|n}{r| (high)=481}', {rich: {i: it(9), r: rm(9)}}),
  txt(505, 294.5, '{i|n}{r| (low)=481}', {rich: {i: it(9), r: rm(9)}})
];
// rotate y-axis names
[11, 13, 15].forEach(k => { graphic[k].rotation = Math.PI / 2; });

const chart = echarts.init(document.getElementById('c'), null, {renderer: 'canvas', width: 734, height: 412});
chart.setOption({backgroundColor: '#fff', animation: false, grid, xAxis, yAxis, series, graphic});
</script>
</body></html>
